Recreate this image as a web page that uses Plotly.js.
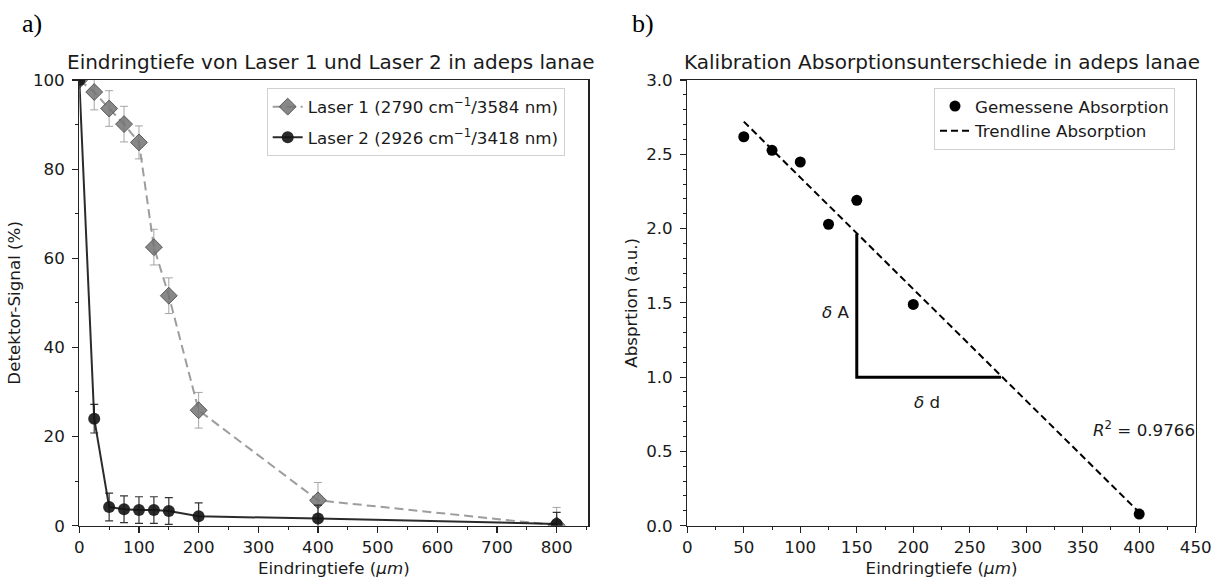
<!DOCTYPE html>
<html>
<head>
<meta charset="utf-8">
<script src="https://cdn.plot.ly/plotly-3.0.1.min.js"></script>
<style>html,body{margin:0;padding:0;background:#fff;}#chart{width:1217px;height:578px;}</style>
</head>
<body>
<div id="chart"></div>
<script>
// ---- Panel a) data ----
const depthA = [0, 25, 50, 75, 100, 125, 150, 200, 400, 800];
const laser1 = [100, 97.3, 93.6, 90.1, 86.0, 62.5, 51.6, 25.9, 5.7, 0.1];
const laser1Err = [0, 4, 4, 4, 3.7, 4, 4, 4, 4, 4];
const laser2 = [100, 24.0, 4.2, 3.7, 3.5, 3.5, 3.3, 2.1, 1.6, 0.4];
const laser2Err = [0, 3.2, 3.1, 3, 3, 3, 3, 3, 3, 2.6];
const laser1Name = 'Laser 1 (2790 cm<sup>−1</sup>/3584 nm)';
const laser2Name = 'Laser 2 (2926 cm<sup>−1</sup>/3418 nm)';

// ---- Panel b) data ----
const depthB = [50, 75, 100, 125, 150, 200, 400];
const absorption = [2.618, 2.527, 2.448, 2.029, 2.19, 1.489, 0.078];
const trendX = [50, 400];
const trendY = [2.72, 0.09];
const triX = [150, 150, 277.7];
const triY = [1.965, 1.0, 1.0];
const r2Text = '<i>R</i><sup>2</sup> = 0.9766';

const W = 1217, H = 578;
const px = v => v / W;
const py = v => (H - v) / H;
const FONT = 'DejaVu Sans, sans-serif';
const TXT = '#1a1a1a';
const FS = 16.7;

const traces = [
  {x: depthA, y: laser1, name: laser1Name, type: 'scatter', mode: 'lines+markers',
   xaxis: 'x', yaxis: 'y', legend: 'legend', legendgroup: 'l1',
   line: {color: 'rgba(140,140,140,0.85)', width: 2, dash: '9px,5px'},
   marker: {symbol: 'diamond', size: 13, color: 'rgba(115,115,115,0.85)', line: {color: 'rgba(80,80,80,0.9)', width: 1}},
   error_y: {type: 'data', array: laser1Err, visible: true, color: 'rgba(155,155,155,0.9)', thickness: 1, width: 4}},
  {x: depthA, y: laser2, name: laser2Name, type: 'scatter', mode: 'lines+markers',
   xaxis: 'x', yaxis: 'y', legend: 'legend', legendgroup: 'l2',
   line: {color: 'rgba(20,20,20,0.9)', width: 2},
   marker: {symbol: 'circle', size: 12, color: 'rgba(20,20,20,0.9)'},
   error_y: {type: 'data', array: laser2Err, visible: true, color: 'rgba(30,30,30,0.9)', thickness: 1.2, width: 4}},
  {x: depthB, y: absorption, name: 'Gemessene Absorption', type: 'scatter', mode: 'markers',
   xaxis: 'x2', yaxis: 'y2', legend: 'legend2', legendgroup: 'g1',
   marker: {symbol: 'circle', size: 11, color: '#000'}},
  {x: trendX, y: trendY, name: 'Trendline Absorption', type: 'scatter', mode: 'lines',
   xaxis: 'x2', yaxis: 'y2', legend: 'legend2', legendgroup: 'g2',
   line: {color: '#000', width: 2, dash: '7px,4px'}},
  {x: triX, y: triY, type: 'scatter', mode: 'lines', showlegend: false,
   xaxis: 'x2', yaxis: 'y2', line: {color: '#000', width: 3}, hoverinfo: 'skip'}
];

const axBase = {
  showgrid: false, zeroline: false, showline: true, mirror: true,
  linecolor: '#222', linewidth: 1.2, ticks: 'outside', ticklen: 6, tickwidth: 1.1,
  tickcolor: '#222', tickfont: {family: FONT, size: FS, color: TXT}, automargin: false
};
const minorStyle = {ticks: 'outside', ticklen: 3.5, tickcolor: '#222', tickwidth: 1};

const layout = {
  width: W, height: H, margin: {l: 0, r: 0, t: 0, b: 0},
  paper_bgcolor: '#fff', plot_bgcolor: '#fff', showlegend: true,
  font: {family: FONT, color: TXT},
  xaxis: Object.assign({}, axBase, {domain: [px(79.3), px(588.3)], range: [0, 853], anchor: 'y',
    tickvals: [0, 100, 200, 300, 400, 500, 600, 700, 800],
    minor: Object.assign({dtick: 50, tick0: 0}, minorStyle),
    title: {text: 'Eindringtiefe (<i>μm</i>)', font: {family: FONT, size: FS, color: TXT}, standoff: 7}}),
  yaxis: Object.assign({}, axBase, {domain: [py(525.7), py(80)], range: [0, 100], anchor: 'x',
    tickvals: [0, 20, 40, 60, 80, 100], ticklabelstandoff: 4,
    minor: Object.assign({dtick: 10, tick0: 0}, minorStyle),
    title: {text: 'Detektor-Signal (%)', font: {family: FONT, size: FS, color: TXT}, standoff: 8}}),
  xaxis2: Object.assign({}, axBase, {domain: [px(687.3), px(1195.7)], range: [0, 450], anchor: 'y2',
    tickvals: [0, 50, 100, 150, 200, 250, 300, 350, 400, 450],
    minor: Object.assign({dtick: 25, tick0: 0}, minorStyle),
    title: {text: 'Eindringtiefe (<i>μm</i>)', font: {family: FONT, size: FS, color: TXT}, standoff: 7}}),
  yaxis2: Object.assign({}, axBase, {domain: [py(525.7), py(80)], range: [0, 3], anchor: 'x2',
    tickvals: [0, 0.5, 1, 1.5, 2, 2.5, 3], ticktext: ['0.0', '0.5', '1.0', '1.5', '2.0', '2.5', '3.0'],
    ticklabelstandoff: 4,
    minor: Object.assign({dtick: 0.1, tick0: 0}, minorStyle),
    title: {text: 'Absprtion (a.u.)', font: {family: FONT, size: FS, color: TXT}, standoff: 4}}),
  legend: {x: px(266.7), y: py(88.3), xanchor: 'left', yanchor: 'top', traceorder: 'grouped', tracegroupgap: 6,
    bgcolor: 'rgba(255,255,255,0.8)', bordercolor: '#d0d0d0', borderwidth: 1,
    font: {family: FONT, size: FS, color: TXT}},
  legend2: {x: px(934), y: py(87.7), xanchor: 'left', yanchor: 'top', traceorder: 'grouped', tracegroupgap: 0,
    bgcolor: 'rgba(255,255,255,0.8)', bordercolor: '#d0d0d0', borderwidth: 1,
    font: {family: FONT, size: FS, color: TXT}},
  annotations: [
    {xref: 'paper', yref: 'paper', x: px((79.3 + 588.3) / 2 - 3), y: py(62), xanchor: 'center', yanchor: 'middle',
     text: 'Eindringtiefe von Laser 1 und Laser 2 in adeps lanae', showarrow: false,
     font: {family: FONT, size: 20, color: TXT}},
    {xref: 'paper', yref: 'paper', x: px((687.3 + 1195.7) / 2), y: py(62), xanchor: 'center', yanchor: 'middle',
     text: 'Kalibration Absorptionsunterschiede in adeps lanae', showarrow: false,
     font: {family: FONT, size: 20, color: TXT}},
    {xref: 'paper', yref: 'paper', x: px(32), y: py(24), xanchor: 'center', yanchor: 'middle',
     text: 'a)', showarrow: false, font: {family: 'Liberation Serif, serif', size: 26, color: '#000'}},
    {xref: 'paper', yref: 'paper', x: px(643), y: py(24), xanchor: 'center', yanchor: 'middle',
     text: 'b)', showarrow: false, font: {family: 'Liberation Serif, serif', size: 26, color: '#000'}},
    {xref: 'x2', yref: 'y2', x: 132, y: 1.44, text: '<i>δ</i> A', showarrow: false,
     font: {family: FONT, size: FS, color: TXT}},
    {xref: 'x2', yref: 'y2', x: 212, y: 0.834, text: '<i>δ</i> d', showarrow: false,
     font: {family: FONT, size: FS, color: TXT}},
    {xref: 'x2', yref: 'y2', x: 404, y: 0.648, text: r2Text, showarrow: false,
     font: {family: FONT, size: FS, color: TXT}}
  ]
};

Plotly.newPlot('chart', traces, layout, {staticPlot: true, displayModeBar: false});
</script>
</body>
</html>
